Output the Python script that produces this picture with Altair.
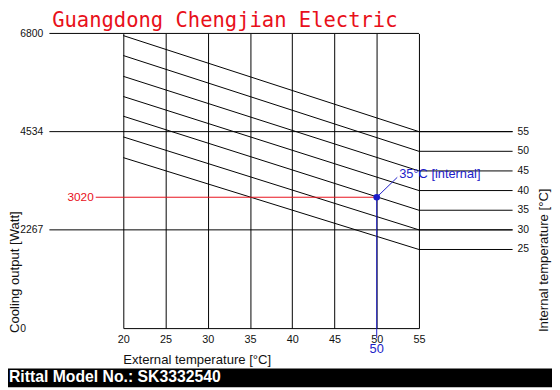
import altair as alt
import pandas as pd

# ---- data ----
internal_temps = [55, 50, 45, 40, 35, 30, 25]
cooling_at_20 = [6750, 6290, 5810, 5345, 4890, 4412, 3934]
cooling_at_55 = [4534, 4080, 3627, 3174, 2720, 2267, 1814]
ext_range = [20, 55]
x_ticks = [20, 25, 30, 35, 40, 45, 50, 55]
y_ticks = [0, 2267, 4534, 6800]
y_grid_long = [2267, 4534]
y_grid_top = [6800]
op_ext = [50]
op_cooling = [3020]
op_internal = 35
title_text = "Guangdong Chengjian Electric"
footer_text = "Rittal Model No.: SK3332540"
x_title = "External temperature [°C]"
y_title = "Cooling output [Watt]"
y2_title = "Internal temperature [°C]"

FONT = "Liberation Sans"
RED = "#e8101a"
BLUE = "#1c1cc8"
INK = "#111111"

rows = []
for t, a, b in zip(internal_temps, cooling_at_20, cooling_at_55):
    rows.append({"internal": t, "ext": ext_range[0], "cooling": a})
    rows.append({"internal": t, "ext": ext_range[1], "cooling": b})
curves = pd.DataFrame(rows)
right_df = pd.DataFrame({"internal": internal_temps,
                         "ext": [ext_range[1]] * len(internal_temps),
                         "cooling": cooling_at_55})
op_df = pd.DataFrame({"ext": op_ext, "cooling": op_cooling,
                      "label": [str(v) for v in op_cooling],
                      "ext_label": [str(v) for v in op_ext],
                      "note": [f"{op_internal}°C [internal]"]})
one = pd.DataFrame({"t": [title_text], "f": [footer_text], "xt": [x_title],
                    "yt": [y_title], "y2t": [y2_title]})

xs = alt.Scale(domain=ext_range, nice=False, zero=False)
ys = alt.Scale(domain=[0, 6800], nice=False)

x_axis = alt.Axis(
    values=x_ticks, format="d", grid=True, gridColor="black", gridOpacity=1,
    gridWidth=1, domain=True, domainColor="black", domainWidth=1, ticks=False,
    tickSize=0, labelPadding=6, labelFontSize=11, labelColor=INK, labelFont=FONT,
    labelFlush=False, title=None)
y_axis = alt.Axis(
    values=y_ticks, format="d", grid=False, domain=False, ticks=False, tickSize=0,
    labelAlign="left", labelBaseline="middle", labelPadding=105,
    labelFontSize=10.5, labelColor=INK, labelFont=FONT, labelFlush=False,
    title=None)

X = lambda: alt.X("ext:Q", scale=xs, axis=x_axis)
Y = lambda: alt.Y("cooling:Q", scale=ys, axis=y_axis)

lines = alt.Chart(curves).mark_line(color="black", strokeWidth=1).encode(
    x=X(), y=Y(), detail="internal:N")

top_rule = alt.Chart(pd.DataFrame({"cooling": y_grid_top})).mark_rule(
    color="black", strokeWidth=1).encode(y=Y(), x=alt.value(-75), x2=alt.value(300))
long_rules = alt.Chart(pd.DataFrame({"cooling": y_grid_long})).mark_rule(
    color="black", strokeWidth=1).encode(y=Y(), x=alt.value(-75), x2=alt.value(395))
right_rules = alt.Chart(right_df).mark_rule(color="black", strokeWidth=1).encode(
    x=X(), x2=alt.value(395), y=Y())
right_labels = alt.Chart(right_df).mark_text(
    align="left", baseline="middle", fontSize=10.5, font=FONT, color=INK).encode(
    x=alt.value(400), y=Y(), text="internal:Q")

red_rule = alt.Chart(op_df).mark_rule(color=RED, strokeWidth=1).encode(
    x=X(), x2=alt.value(-28), y=Y())
red_label = alt.Chart(op_df).mark_text(
    align="right", baseline="middle", fontSize=12, font=FONT, color=RED).encode(
    x=alt.value(-30), y=Y(), text="label:N")
blue_vert = alt.Chart(op_df).mark_rule(color=BLUE, strokeWidth=1).encode(
    x=X(), y=Y(), y2=alt.value(309))
blue_diag = alt.Chart(op_df).mark_rule(color=BLUE, strokeWidth=1).encode(
    x=X(), y=Y(), x2=alt.value(278), y2=alt.value(146))
blue_pt = alt.Chart(op_df).mark_circle(color=BLUE, opacity=1, size=45).encode(
    x=X(), y=Y())
blue_xlab = alt.Chart(op_df).mark_text(
    align="center", baseline="middle", fontSize=13, font=FONT, color=BLUE).encode(
    x=X(), y=alt.value(320), text="ext_label:N")
blue_note = alt.Chart(op_df).mark_text(
    align="left", baseline="middle", fontSize=13, font=FONT, color=BLUE).encode(
    x=alt.value(280), y=alt.value(143), text="note:N")

title = alt.Chart(one).mark_text(
    align="center", baseline="middle", fontSize=20.8, font="DejaVu Sans Mono",
    color=RED).encode(x=alt.value(103), y=alt.value(-13), text="t:N")
xtitle = alt.Chart(one).mark_text(
    align="left", baseline="middle", fontSize=13.3, font=FONT, color=INK).encode(
    x=alt.value(0), y=alt.value(331), text="xt:N")
ytitle = alt.Chart(one).mark_text(
    align="left", baseline="middle", fontSize=13.3, font=FONT, color=INK, angle=270).encode(
    x=alt.value(-110), y=alt.value(304), text="yt:N")
y2title = alt.Chart(one).mark_text(
    align="left", baseline="middle", fontSize=13.3, font=FONT, color=INK, angle=270).encode(
    x=alt.value(427), y=alt.value(303), text="y2t:N")
footer_bg = alt.Chart(one).mark_rect(color="black").encode(
    x=alt.value(-117), x2=alt.value(435), y=alt.value(340), y2=alt.value(359))
footer = alt.Chart(one).mark_text(
    align="left", baseline="middle", fontSize=16, font=FONT, fontWeight="bold",
    color="white").encode(x=alt.value(-116), y=alt.value(349), text="f:N")

chart = alt.layer(
    lines, top_rule, long_rules, right_rules, right_labels,
    red_rule, red_label, blue_vert, blue_diag, blue_pt, blue_xlab, blue_note,
    title, xtitle, ytitle, y2title, footer_bg, footer,
).properties(
    width=300, height=299,
    padding={"left": 117, "top": 23, "right": 135, "bottom": 60},
    autosize=alt.AutoSizeParams(type="none"),
    background="white",
).configure_view(stroke=None)

chart.save("out.html", embed_options={"renderer": "svg", "actions": False})
